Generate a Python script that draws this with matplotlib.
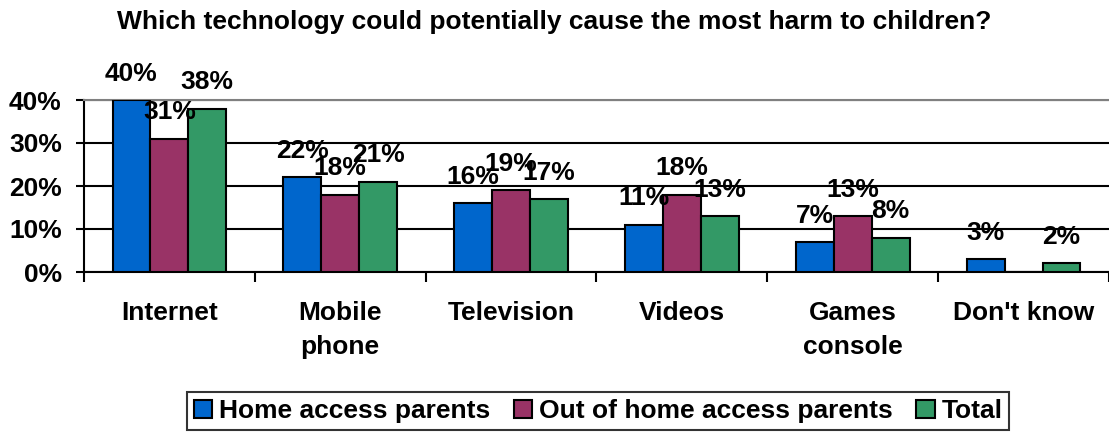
import matplotlib.pyplot as plt
import numpy as np
from matplotlib.ticker import FuncFormatter

categories = ["Internet", "Mobile\nphone", "Television", "Videos", "Games\nconsole", "Don't know"]
series_names = ["Home access parents", "Out of home access parents", "Total"]
home = [40, 22, 16, 11, 7, 3]
out_home = [31, 18, 19, 18, 13, 0]
total = [38, 21, 17, 13, 8, 2]
colors = ["#0066CC", "#993366", "#339966"]

plt.rcParams['font.family'] = ['Liberation Sans', 'DejaVu Sans']
plt.rcParams['font.weight'] = 'bold'
FS = 19

fig = plt.figure(figsize=(11.09, 4.32), dpi=100)
ax = fig.add_axes([84/1109, 160/432, 1 - 84/1109, 172/432])

x = np.arange(len(categories))
w = 0.222
for i, (vals, c, name) in enumerate(zip([home, out_home, total], colors, series_names)):
    xs = x + (i - 1) * w
    ax.bar(xs, vals, w, color=c, edgecolor='black', linewidth=1.5, label=name, zorder=3)
    for xi, v in zip(xs, vals):
        if v == 0:
            continue
        ax.annotate(f"{v}%", (xi, v), xytext=(0, 19), textcoords='offset points',
                    ha='center', va='center', fontsize=FS, fontweight='bold', zorder=5)

ax.set_xlim(-0.5, len(categories) - 0.5)
ax.set_ylim(0, 40)
ax.set_yticks([0, 10, 20, 30, 40])
ax.yaxis.set_major_formatter(FuncFormatter(lambda v, p: f"{int(v)}%"))
ax.grid(axis='y', color='black', linewidth=1.5, zorder=0)
ax.tick_params(axis='y', length=6, width=1.5, pad=10, labelsize=FS)

ax.set_xticks(x)
ax.set_xticklabels(categories, fontsize=FS, fontweight='bold', linespacing=1.52, va='top')
ax.tick_params(axis='x', which='major', length=0, pad=21)
ax.set_xticks(np.arange(len(categories) + 1) - 0.5, minor=True)
ax.tick_params(axis='x', which='minor', length=7, width=1.5)

ax.spines['right'].set_visible(False)
ax.spines['top'].set_color('#808080')
ax.spines['top'].set_linewidth(1.5)
ax.spines['left'].set_linewidth(1.5)
ax.spines['bottom'].set_linewidth(1.5)

fig.text(0.5, 1 - 22/432, "Which technology could potentially cause the most harm to children?",
         ha='center', va='center', fontsize=19, fontweight='bold')

leg = fig.legend(loc='center', bbox_to_anchor=(598/1109, 1 - 411/432), ncol=3,
                 fontsize=FS, frameon=True, fancybox=False, handlelength=0.7,
                 handleheight=0.7, handletextpad=0.25, columnspacing=0.9,
                 borderpad=0.25, borderaxespad=0)
leg.get_frame().set_edgecolor('black')
leg.get_frame().set_linewidth(1.5)
for t in leg.get_texts():
    t.set_fontweight('bold')

fig.savefig("out.png", dpi=100)
